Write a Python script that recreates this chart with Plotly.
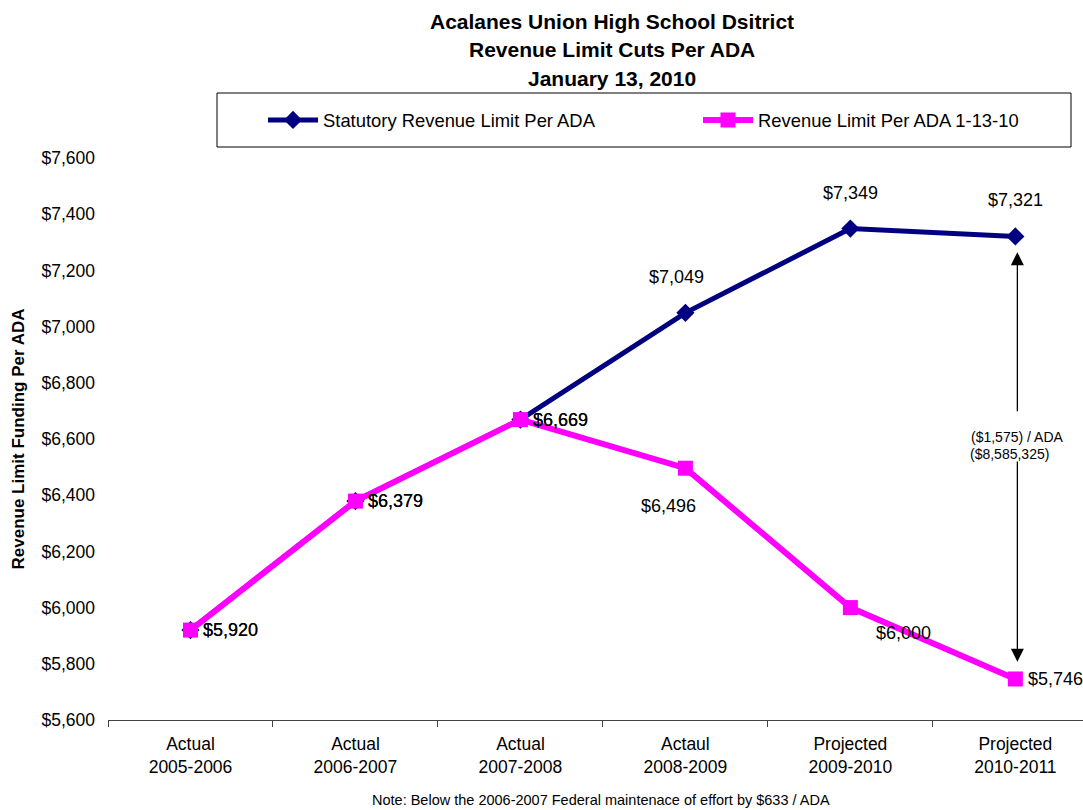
import plotly.graph_objects as go

categories = ["Actual<br>2005-2006", "Actual<br>2006-2007", "Actual<br>2007-2008",
              "Actaul<br>2008-2009", "Projected<br>2009-2010", "Projected<br>2010-2011"]
statutory = [5920, 6379, 6669, 7049, 7349, 7321]
revised = [5920, 6379, 6669, 6496, 6000, 5746]
stat_name = "Statutory Revenue Limit Per ADA"
rev_name = "Revenue Limit Per ADA 1-13-10"
title_lines = ["Acalanes Union High School Dsitrict", "Revenue Limit Cuts Per ADA", "January 13, 2010"]
gap_per_ada = "($1,575) / ADA"
gap_total = "($8,585,325)"
note = "Note: Below the 2006-2007 Federal maintenace of effort by $633 / ADA"

NAVY = "#000080"
PINK = "#FF00FF"
FONT = "Liberation Sans, Arial, sans-serif"
LBL = 18

W, H = 1083, 810
ML, MR, MT, MB = 108, 0, 158, 90
PW, PH = W - ML - MR, H - MT - MB

def px(x):
    return (x - ML) / PW

def py(y):
    return (H - MB - y) / PH

fig = go.Figure()
fig.add_trace(go.Scatter(x=categories, y=statutory, name=stat_name, mode="lines+markers",
                         line=dict(color=NAVY, width=5), legend="legend",
                         marker=dict(symbol="diamond", size=14, color=NAVY)))
fig.add_trace(go.Scatter(x=categories, y=revised, name=rev_name, mode="lines+markers",
                         line=dict(color=PINK, width=6), legend="legend2",
                         marker=dict(symbol="square", size=15, color=PINK)))

ann = []
for t, yc in zip(title_lines, [21, 49.5, 78]):
    ann.append(dict(x=px(612), y=py(yc), xref="paper", yref="paper",
                    text=f"<b>{t}</b>", showarrow=False, xanchor="center", yanchor="middle",
                    font=dict(size=21, color="black", family=FONT)))

# statutory labels
for i, (c, v) in enumerate(zip(categories, statutory)):
    if i < 3:
        ann.append(dict(x=c, y=v, text=f"${v:,}", showarrow=False, xanchor="left",
                        xshift=11, yshift=0, font=dict(size=LBL, color="black", family=FONT)))
    else:
        ann.append(dict(x=c, y=v, text=f"${v:,}", showarrow=False, xanchor="center",
                        xshift=-9 if i == 3 else 0, yshift=36, font=dict(size=LBL, color="black", family=FONT)))
# revised labels
rev_offsets = [(11, 0, "left"), (11, 0, "left"), (11, 0, "left"),
               (-17, -38, "center"), (53, -25, "center"), (11, 0, "left")]
for (c, v), (dx, dy, xa) in zip(zip(categories, revised), rev_offsets):
    ann.append(dict(x=c, y=v, text=f"${v:,}", showarrow=False, xanchor=xa,
                    xshift=dx, yshift=dy, font=dict(size=LBL, color="black", family=FONT)))

# double arrow between the two last values
last = categories[-1]
ann.append(dict(x=last, y=7265, ax=last, ay=6693, xref="x", yref="y", axref="x", ayref="y",
                text="", showarrow=True, arrowhead=2, arrowsize=2.0, arrowwidth=1.3,
                arrowcolor="black", xshift=2))
ann.append(dict(x=last, y=5807, ax=last, ay=6525, xref="x", yref="y", axref="x", ayref="y",
                text="", showarrow=True, arrowhead=2, arrowsize=2.0, arrowwidth=1.3,
                arrowcolor="black", xshift=2))
ann.append(dict(x=last, y=6607, text=gap_per_ada, showarrow=False, yanchor="middle",
                xshift=2, font=dict(size=14, color="black", family=FONT)))
ann.append(dict(x=last, y=6547, text=gap_total, showarrow=False, yanchor="middle",
                xshift=-6, font=dict(size=14, color="black", family=FONT)))

# note
ann.append(dict(x=px(601), y=py(800), xref="paper", yref="paper", text=note, showarrow=False,
                yanchor="middle", font=dict(size=14.5, color="black", family=FONT)))

legend_common = dict(orientation="h", xanchor="left", yanchor="middle", bgcolor="rgba(0,0,0,0)",
                     font=dict(size=18.4, color="black", family=FONT))

fig.update_layout(
    width=W, height=H,
    margin=dict(l=ML, r=MR, t=MT, b=MB, pad=0, autoexpand=False),
    paper_bgcolor="white", plot_bgcolor="white",
    font=dict(family=FONT, color="black"),
    xaxis=dict(type="category", range=[-0.5, 5.41], tickson="boundaries", ticks="outside", ticklen=6,
               tickcolor="#444", showline=True, linecolor="#444", linewidth=1, showgrid=False,
               ticklabelstandoff=8,
               tickfont=dict(size=17.5, color="black"), zeroline=False, automargin=False),
    yaxis=dict(range=[5600, 7600], dtick=200, tickprefix="$", tickformat=",", showgrid=False,
               showline=False, zeroline=False, ticks="", ticklabelstandoff=12, automargin=False,
               tickfont=dict(size=17.5, color="black"),
               title=dict(text="<b>Revenue Limit Funding Per ADA</b>", font=dict(size=17, color="black"),
                          standoff=12)),
    showlegend=True,
    legend=dict(x=px(263), y=py(120), itemwidth=50, **legend_common),
    legend2=dict(x=px(698), y=py(120), itemwidth=50, **legend_common),
    shapes=[dict(type="rect", xref="paper", yref="paper", x0=px(217), x1=px(1071), y0=py(147), y1=py(93),
                 line=dict(color="black", width=1), fillcolor="rgba(0,0,0,0)", layer="above")],
    annotations=ann,
)

fig.write_html("out.html", config={"displayModeBar": False},
               post_script="document.body.style.margin='0';document.body.style.padding='0';")
